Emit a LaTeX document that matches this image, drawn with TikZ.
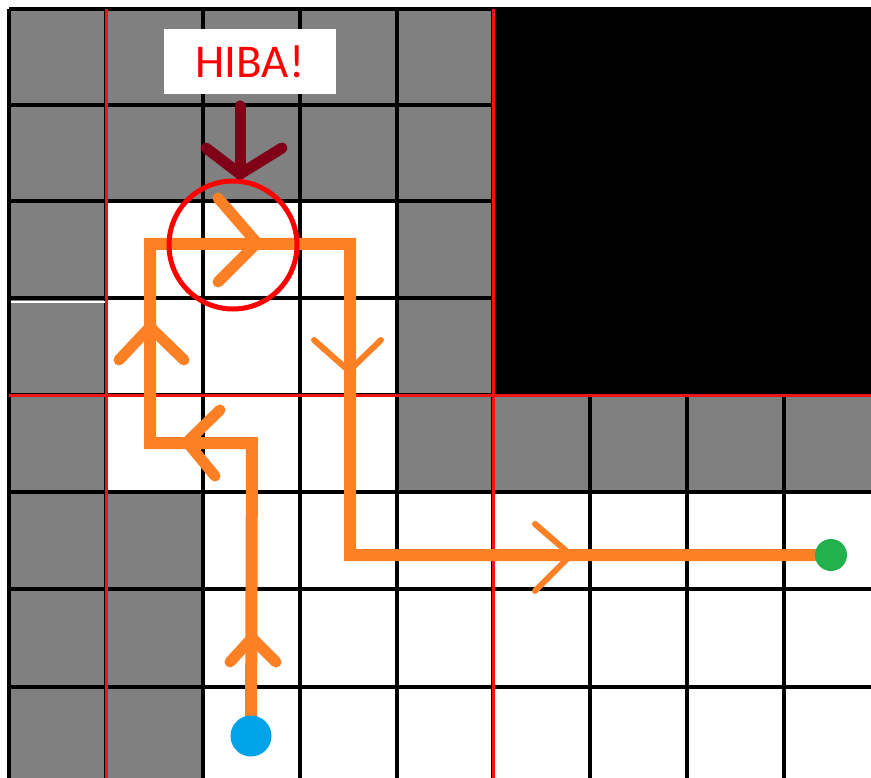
\documentclass[tikz,border=0pt]{standalone}
\usepackage{fontspec}
\newfontfamily\labelfont{Carlito}
\definecolor{cellgray}{RGB}{128,128,128}
\definecolor{pathorange}{RGB}{253,128,36}
\definecolor{startblue}{RGB}{0,162,232}
\definecolor{goalgreen}{RGB}{34,177,76}
\definecolor{errred}{RGB}{128,0,24}
\definecolor{gridred}{RGB}{240,20,20}
\tikzset{
  gridline/.style={black, line width=3.3pt},
  redline/.style={gridred, line width=3pt},
  route/.style={pathorange, line width=12pt, line join=miter},
  chevron/.style={pathorange, line width=11pt, line cap=round, line join=round},
  thinchevron/.style={pathorange, line width=6pt, line cap=round, line join=miter},
  errarrow/.style={errred, line width=11pt, line cap=round, line join=round},
}
\begin{document}
\begin{tikzpicture}[x=1pt,y=-1pt]
\useasboundingbox (0,0) rectangle (871,778);
\fill[white] (0,0) rectangle (871,778);
% gray cells
\fill[cellgray] (9,9) rectangle (493,201);
\fill[cellgray] (9,201) rectangle (106,492);
\fill[cellgray] (397,201) rectangle (493,395);
\fill[cellgray] (397,395) rectangle (871,492);
\fill[cellgray] (9,492) rectangle (203,778);
% grid
\foreach \x in {9,106,203,300,397,493,590,687,784}
  \draw[gridline] (\x,9) -- (\x,778);
\foreach \y in {9,105,201,298,395,492,589,687}
  \draw[gridline] (9,\y) -- (871,\y);
% black block
\fill[black] (493,9) rectangle (871,395);
\draw[white, line width=1.3pt] (11,302) -- (105,302);
% red lines
\draw[redline] (106,9) -- (106,778);
\draw[redline] (493,9) -- (493,778);
\draw[redline] (9,395) -- (871,395);
% route
\coordinate (start) at (251,736);
\coordinate (c1) at (252,443);
\coordinate (c2) at (150,443);
\coordinate (c3) at (150,244);
\coordinate (c4) at (350,244);
\coordinate (c5) at (350,555);
\coordinate (goal) at (831,555);
\draw[route] (start) -- (c1) -- (c2) -- (c3) -- (c4) -- (c5) -- (goal);
% chevrons
\draw[chevron] (230,662) -- (252,638) -- (276,662);
\draw[chevron] (220,410) -- (187,442) -- (215,476);
\draw[chevron] (119,360) -- (150,327) -- (184,360);
\draw[chevron] (218,198) -- (257,243) -- (218,282);
\draw[thinchevron] (314,340) -- (349,371) -- (381,340);
\draw[thinchevron] (535,524) -- (571,555) -- (535,591);
% start and goal
\node[circle, fill=startblue, minimum size=41pt, inner sep=0pt] (startdot) at (start) {};
\node[circle, fill=goalgreen, minimum size=32pt, inner sep=0pt] (goaldot) at (goal) {};
% error marker
\node[circle, draw=red, line width=5pt, minimum size=128pt, inner sep=0pt] (errcircle) at (233,245) {};
\node[fill=white, minimum width=172pt, minimum height=65pt, inner sep=0pt, text=red,
      font=\labelfont\fontsize{47}{56}\selectfont] (hiba) at (250,61.5) {HIBA!};
\coordinate (errtip) at (240,174);
\draw[errarrow] (240,106) -- (errtip);
\draw[errarrow] (206,148) -- (errtip) -- (282,148);
\end{tikzpicture}
\end{document}
